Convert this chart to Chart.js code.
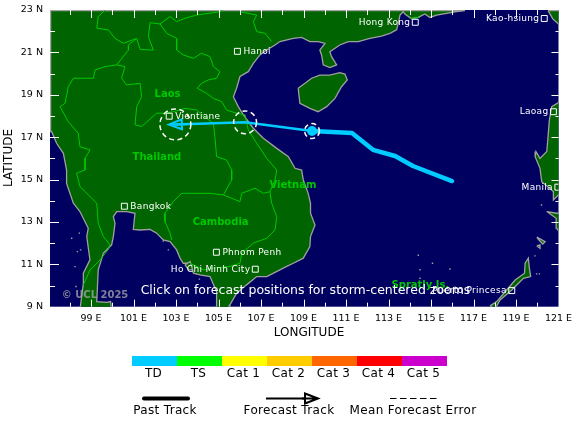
<!DOCTYPE html>
<html>
<head>
<meta charset="utf-8">
<title>Storm track</title>
<script src="https://cdn.jsdelivr.net/npm/chart.js@4/dist/chart.umd.js"></script>
<style>
body { margin: 0; background: #fff; }
canvas { display: block; }
</style>
</head>
<body>
<canvas id="trackChart" width="580" height="426"></canvas>
<script>
// axis labels
const lonTicks = [99, 101, 103, 105, 107, 109, 111, 113, 115, 117, 119, 121];
const latTicks = [9, 11, 13, 15, 17, 19, 21, 23];

// land outlines, [lon, lat]
const mainlandCoast = [[116.6,22.97],[116.2,22.92],[115.73,22.84],[115.26,22.76],[114.95,22.65],[114.71,22.81],[114.4,22.65],[114.09,22.59],[113.77,22.81],[113.69,22.92],[113.54,22.76],[113.46,22.37],[113.38,22.06],[113.07,21.9],[112.67,21.77],[112.12,21.66],[111.58,21.51],[111.11,21.51],[110.71,21.35],[110.24,21.03],[110.32,20.8],[110.56,20.41],[110.24,20.28],[109.93,20.41],[109.85,20.88],[109.77,21.11],[110.01,21.43],[109.69,21.51],[109.3,21.51],[108.91,21.71],[108.52,21.66],[107.89,21.51],[107.66,21.35],[107.27,21.11],[106.95,20.88],[106.64,20.48],[106.4,20.09],[106.01,19.86],[105.85,19.31],[105.7,18.91],[105.93,18.44],[106.17,18.05],[106.64,17.42],[107.11,16.95],[107.74,16.47],[108.29,16.08],[108.6,15.53],[108.91,15.45],[108.99,14.98],[109.22,14.35],[109.33,13.88],[109.33,13.41],[109.54,12.86],[109.33,12.31],[109.3,11.84],[108.99,11.29],[108.52,11.05],[108.21,10.9],[107.27,10.42],[106.8,10.42],[106.32,10.03],[105.85,9.63],[105.54,9.09],[105.5,8.8],[104.91,8.8],[104.91,9.71],[104.6,10.42],[104.13,10.5],[103.82,10.58],[103.66,11.05],[103.34,11.05],[103.19,11.29],[103.03,11.68],[102.72,12.07],[102.4,12.15],[102.09,12.47],[101.78,12.65],[101.31,12.62],[100.99,12.65],[101.07,13.41],[100.68,13.49],[100.21,13.49],[100.05,13.25],[100.13,12.94],[100.05,12.31],[99.97,11.92],[99.58,11.52],[99.34,10.74],[99.27,9.24],[99.74,9.2],[99.92,9.24],[99.97,8.85],[98.48,8.85],[98.64,10.1],[98.64,10.58],[98.95,11.21],[98.8,12.31],[98.87,12.7],[98.48,13.49],[98.17,13.88],[97.85,14.82],[97.85,15.45],[97.7,16.24],[97.38,16.71],[97.15,17.26],[97.1,17.26],[97.1,22.97]];
const hainanCoast = [[108.75,19.31],[108.83,18.6],[109.3,18.36],[109.69,18.2],[110.09,18.44],[110.48,18.83],[110.79,19.38],[111.06,19.7],[110.95,19.98],[110.71,20.04],[110.24,19.93],[109.77,19.93],[109.38,19.78],[109.07,19.54]];
const taiwanCoast = [[120.51,22.97],[120.74,22.57],[121.0,22.34],[121.1,21.94],[121.4,21.94],[121.4,22.97]];
const luzonCoast = [[121.07,18.68],[120.68,18.44],[120.57,17.81],[120.52,17.18],[120.45,16.32],[120.13,16.0],[119.94,16.32],[119.9,16.08],[120.13,15.53],[120.21,14.9],[120.76,14.43],[120.76,14.04],[121.07,14.35],[121.6,14.1],[121.6,18.68]];
const mindoroCoast = [[120.45,13.49],[120.92,13.41],[121.5,13.41],[121.5,12.4],[121.07,12.47],[120.92,12.7],[120.89,13.17]];
const busuangaCoast = [[119.98,12.28],[120.37,12.07],[120.26,11.96],[120.05,12.18]];
const culionCoast = [[119.98,11.87],[120.13,11.92],[120.13,11.76]];
const palawanCoast = [[117.78,9.04],[118.09,9.24],[118.56,9.79],[118.96,10.26],[119.4,10.58],[119.43,11.05],[119.58,11.29],[119.63,10.81],[119.69,10.42],[119.35,10.34],[118.8,9.79],[118.25,9.32],[118.02,8.9]];
const phuQuocCoast = [[103.42,10.97],[103.66,11.13],[103.78,10.74],[103.6,10.74]];

// specks too small to outline
const isletLons = [98.09,98.45,98.51,98.36,98.25,98.29,102.4,102.64,104.1,114.4,115.07,114.48,115.89,114.48,119.89,119.97,120.2,120.1];
const isletLats = [12.23,12.47,11.68,11.6,10.89,9.95,12.1,11.68,10.3,11.43,11.05,10.74,10.78,10.34,11.4,10.55,13.8,10.55];

// country borders
const chinaBorderWest = [[99.66,23],[99.34,22.69],[99.27,22.14],[99.82,22.06],[100.13,21.66],[100.52,21.43],[101.15,21.66],[101.31,21.14],[101.93,21.11],[101.7,21.74],[101.78,22.4],[102.25,22.34],[102.72,22.69],[103.03,22.45],[103.42,22.61],[103.97,22.76],[105.07,22.92],[105.2,23]];
const chinaBorderEast = [[106.01,22.92],[106.4,22.84],[106.8,22.76],[106.64,22.45],[106.8,21.98],[107.19,21.9],[107.5,21.51]];
const laosVietnamBorder = [[102.25,22.34],[102.56,21.9],[103.03,21.66],[103.03,21.11],[103.34,20.88],[103.82,20.72],[104.2,20.96],[104.6,20.8],[104.76,20.33],[105.07,20.09],[104.91,19.78],[104.52,19.7],[104.2,19.54],[104.0,19.31],[104.44,19.07],[104.76,18.83],[105.15,18.68],[105.38,18.28],[105.85,18.13],[106.25,18.05],[106.4,17.34],[106.8,16.71],[107.27,16.0],[107.74,15.45],[107.66,14.98],[107.42,14.43]];
const thaiLaosBorder = [[101.15,21.66],[100.76,21.35],[100.76,21.11],[100.21,20.41],[100.6,20.33],[100.44,19.78],[100.68,19.46],[101.31,19.54],[101.38,18.91],[101.15,18.44],[101.07,17.58],[101.38,17.5],[102.09,18.13],[102.4,18.13],[102.87,18.2],[103.42,18.36],[103.97,18.28],[104.44,17.89],[104.76,17.65],[104.83,17.03],[104.91,16.08],[105.38,15.92],[105.62,15.45],[105.62,14.98],[105.23,14.27],[104.6,14.35],[103.74,14.35],[103.27,14.35],[102.87,13.96],[102.48,13.41],[102.48,13.02],[102.72,12.47],[102.8,12.15]];
const thaiMyanmarBorder = [[100.21,20.41],[99.66,20.33],[99.19,20.17],[99.11,19.78],[98.17,19.78],[97.93,19.38],[97.78,18.6],[97.54,18.44],[97.93,17.73],[98.4,17.18],[98.48,16.55],[98.95,16.4],[98.72,16.0],[98.72,15.45],[98.32,15.3],[98.48,14.67],[99.27,13.88],[99.34,12.94],[99.58,12.31],[99.89,11.92],[99.82,11.71],[99.42,11.2],[98.95,10.73],[98.64,10.03]];
const cambodiaBorder = [[105.23,14.27],[106.01,13.96],[106.09,14.35],[106.72,14.59],[107.11,14.35],[107.42,14.43],[107.5,13.88],[107.74,13.25],[107.66,12.62],[107.27,12.23],[106.64,12.0],[106.09,11.52],[106.01,11.05],[105.54,10.9],[104.76,10.82],[104.29,10.74],[103.66,11.05]];
const hongKongBorder = [[114.0,22.6],[114.48,22.65]];

// storm track
const pastLons = [115.99, 114.15, 113.31, 112.27, 111.28, 109.4];
const pastLats = [14.93, 15.64, 16.11, 16.4, 17.2, 17.29];
const forecastLons = [109.4, 106.25, 102.97];
const forecastLats = [17.29, 17.7, 17.6];
const errorDegrees = [0.35, 0.54, 0.73];

// cities
const cityNames = ['Hanoi', 'Vientiane', 'Bangkok', 'Phnom Penh', 'Ho Chi Minh City', 'Hong Kong', 'Kao-hsiung', 'Laoag', 'Manila', 'Puerto Princesa'];
const cityLons = [105.89, 102.68, 100.57, 104.9, 106.73, 114.26, 120.33, 120.76, 120.97, 118.8];
const cityLats = [21.05, 17.99, 13.74, 11.57, 10.77, 22.42, 22.6, 18.2, 14.64, 9.76];
const labelsOnLeft = ['Ho Chi Minh City', 'Hong Kong', 'Kao-hsiung', 'Laoag', 'Manila', 'Puerto Princesa'];

// country names
const countryNames = ['Laos', 'Thailand', 'Vietnam', 'Cambodia', 'Spratly Is.'];
const countryLons = [102.6, 102.1, 108.5, 105.1, 114.5];
const countryLats = [19.0, 16.05, 14.7, 13.0, 9.99];

// legend
const catNames = ['TD', 'TS', 'Cat 1', 'Cat 2', 'Cat 3', 'Cat 4', 'Cat 5'];
const catColors = ['#00ccff', '#00ff00', '#ffff00', '#ffcc00', '#ff6600', '#ff0000', '#cc00cc'];

const LAND = '#006400';
const OCEAN = '#000060';
const COAST = '#a0a0a0';
const BORDER = '#00c800';
const FONT = '"DejaVu Sans"';

function toPoints(pairs) {
    return pairs.map(p => ({ x: p[0], y: p[1] }));
}
function zipPoints(lons, lats) {
    return lons.map((lon, i) => ({ x: lon, y: lats[i] }));
}

let datasets = [];
[mainlandCoast, hainanCoast, taiwanCoast, luzonCoast, mindoroCoast, busuangaCoast, culionCoast, palawanCoast, phuQuocCoast].forEach(coast => {
    datasets.push({
        data: toPoints(coast.concat([coast[0]])),
        showLine: true,
        fill: 'shape',
        backgroundColor: LAND,
        borderColor: COAST,
        borderWidth: 1.3,
        pointRadius: 0
    });
});
[chinaBorderWest, chinaBorderEast, laosVietnamBorder, thaiLaosBorder, thaiMyanmarBorder, cambodiaBorder, hongKongBorder].forEach(border => {
    datasets.push({
        data: toPoints(border),
        showLine: true,
        borderColor: BORDER,
        borderWidth: 1,
        pointRadius: 0
    });
});
datasets.push({
    data: zipPoints(isletLons, isletLats),
    pointStyle: 'rect',
    pointRadius: 1,
    borderWidth: 0,
    backgroundColor: COAST
});
datasets.push({
    data: zipPoints(cityLons, cityLats),
    pointStyle: 'rect',
    pointRadius: 4.2,
    borderWidth: 1,
    borderColor: '#ffffff',
    backgroundColor: 'rgba(0,0,0,0)'
});
datasets.push({
    data: zipPoints(pastLons, pastLats),
    showLine: true,
    borderColor: catColors[0],
    borderWidth: 4.5,
    borderCapStyle: 'round',
    borderJoinStyle: 'round',
    pointRadius: 0
});
datasets.push({
    data: zipPoints(forecastLons, forecastLats),
    showLine: true,
    borderColor: catColors[0],
    borderWidth: 2.5,
    pointRadius: 0
});
datasets.push({
    data: zipPoints(forecastLons.slice(0, 1), forecastLats.slice(0, 1)),
    pointRadius: 5,
    borderWidth: 0,
    backgroundColor: catColors[0]
});
// later datasets go on top
datasets.forEach((d, i) => { d.order = 100 - i; });

function drawArrow(ctx, tipX, tipY, angle, color, width) {
    ctx.save();
    ctx.translate(tipX, tipY);
    ctx.rotate(angle);
    ctx.strokeStyle = color;
    ctx.lineWidth = width;
    ctx.lineJoin = 'miter';
    ctx.beginPath();
    ctx.moveTo(0, 0);
    ctx.lineTo(-13, -5);
    ctx.lineTo(-13, 5);
    ctx.closePath();
    ctx.moveTo(0, 0);
    ctx.lineTo(-16, 0);
    ctx.stroke();
    ctx.restore();
}

function label(ctx, text, x, y, font, color, align, spacing) {
    ctx.font = font;
    ctx.fillStyle = color;
    ctx.textAlign = align || 'center';
    ctx.textBaseline = 'middle';
    ctx.letterSpacing = spacing || '0px';
    ctx.fillText(text, x, y);
    ctx.letterSpacing = '0px';
}

const mapBackground = {
    id: 'mapBackground',
    beforeDraw(chart) {
        const a = chart.chartArea;
        chart.ctx.fillStyle = OCEAN;
        chart.ctx.fillRect(a.left, a.top, a.right - a.left, a.bottom - a.top);
    }
};

const mapOverlay = {
    id: 'mapOverlay',
    afterDatasetsDraw(chart) {
        const ctx = chart.ctx;
        const a = chart.chartArea;
        const xs = chart.scales.x;
        const ys = chart.scales.y;

        // inward ticks on all four sides
        ctx.strokeStyle = '#ffffff';
        ctx.lineWidth = 1;
        ctx.beginPath();
        for (let lon = 98; lon <= 120; lon++) {
            const px = Math.round(xs.getPixelForValue(lon)) + 0.5;
            const len = lon % 2 ? 7 : 4;
            ctx.moveTo(px, a.top);
            ctx.lineTo(px, a.top + len + 1);
            ctx.moveTo(px, a.bottom);
            ctx.lineTo(px, a.bottom - len);
        }
        for (let lat = 10; lat <= 22; lat++) {
            const py = Math.round(ys.getPixelForValue(lat)) + 0.5;
            ctx.moveTo(a.left, py);
            ctx.lineTo(a.left + (lat % 2 ? 9 : 5), py);
            ctx.moveTo(a.right, py);
            ctx.lineTo(a.right - (lat % 2 ? 7 : 3), py);
        }
        ctx.stroke();

        // mean forecast error circles
        ctx.save();
        ctx.strokeStyle = '#ffffff';
        ctx.lineWidth = 1.5;
        ctx.setLineDash([5, 3.5]);
        forecastLons.forEach((lon, i) => {
            const radius = ys.getPixelForValue(forecastLats[i] - errorDegrees[i]) - ys.getPixelForValue(forecastLats[i]);
            ctx.beginPath();
            ctx.arc(xs.getPixelForValue(lon), ys.getPixelForValue(forecastLats[i]), radius, 0, Math.PI * 2);
            ctx.stroke();
        });
        ctx.restore();

        // arrow head centred on the last forecast position
        const last = forecastLons.length - 1;
        const endX = xs.getPixelForValue(forecastLons[last]);
        const endY = ys.getPixelForValue(forecastLats[last]);
        const prevX = xs.getPixelForValue(forecastLons[last - 1]);
        const prevY = ys.getPixelForValue(forecastLats[last - 1]);
        const angle = Math.atan2(endY - prevY, endX - prevX);
        drawArrow(ctx, endX + Math.cos(angle) * 6.5, endY + Math.sin(angle) * 6.5, angle, catColors[0], 2);

        ctx.save();
        ctx.beginPath();
        ctx.rect(a.left, a.top, a.right - a.left + 2, a.bottom - a.top);
        ctx.clip();

        countryNames.forEach((name, i) => {
            label(ctx, name, xs.getPixelForValue(countryLons[i]), ys.getPixelForValue(countryLats[i]), 'bold 10px ' + FONT, BORDER);
        });
        cityNames.forEach((name, i) => {
            const onLeft = labelsOnLeft.includes(name);
            const px = xs.getPixelForValue(cityLons[i]) + (onLeft ? -5 : 6);
            label(ctx, name, px, ys.getPixelForValue(cityLats[i]), '9px ' + FONT, '#ffffff', onLeft ? 'right' : 'left', '0.3px');
        });
        label(ctx, '© UCL 2025', 95, 295, 'bold 10px ' + FONT, 'rgba(170,170,170,0.75)');
        label(ctx, 'Click on forecast positions for storm-centered zooms', 305.5, 291, '12.5px ' + FONT, '#ffffff');
        ctx.restore();
    },
    afterDraw(chart) {
        const ctx = chart.ctx;

        label(ctx, 'LONGITUDE', 309, 333, '12px ' + FONT, '#000000');
        ctx.save();
        ctx.translate(8.5, 158);
        ctx.rotate(-Math.PI / 2);
        label(ctx, 'LATITUDE', 0, 0, '12px ' + FONT, '#000000');
        ctx.restore();

        // category colour bar
        catNames.forEach((name, i) => {
            ctx.fillStyle = catColors[i];
            ctx.fillRect(132 + i * 45, 356, 45, 10);
            label(ctx, name, 153.5 + i * 45, 374, '12px ' + FONT, '#000000', 'center', '0.3px');
        });

        // track key
        ctx.strokeStyle = '#000000';
        ctx.lineCap = 'round';
        ctx.lineWidth = 4;
        ctx.beginPath();
        ctx.moveTo(144, 398.5);
        ctx.lineTo(188, 398.5);
        ctx.stroke();
        ctx.lineCap = 'butt';
        ctx.lineWidth = 2;
        ctx.beginPath();
        ctx.moveTo(266, 398.5);
        ctx.lineTo(305, 398.5);
        ctx.stroke();
        drawArrow(ctx, 318, 398.5, 0, '#000000', 2);
        ctx.lineWidth = 1;
        ctx.setLineDash([6.5, 3.5]);
        ctx.beginPath();
        ctx.moveTo(390, 398.5);
        ctx.lineTo(437, 398.5);
        ctx.stroke();
        ctx.setLineDash([]);

        label(ctx, 'Past Track', 165, 411, '12px ' + FONT, '#000000', 'center', '0.35px');
        label(ctx, 'Forecast Track', 289, 411, '12px ' + FONT, '#000000', 'center', '0.35px');
        label(ctx, 'Mean Forecast Error', 413, 411, '12px ' + FONT, '#000000', 'center', '0.35px');
    }
};

new Chart(document.getElementById('trackChart'), {
    type: 'scatter',
    data: { datasets: datasets },
    options: {
        responsive: false,
        animation: false,
        layout: { padding: { left: 0, top: 10, right: 21.5, bottom: 89.3 } },
        plugins: { legend: { display: false }, tooltip: { enabled: false } },
        events: [],
        scales: {
            x: {
                type: 'linear',
                min: 97.07,
                max: 121,
                grid: { display: false, drawTicks: false },
                border: { display: false },
                afterFit(scale) { scale.height = 30; },
                afterBuildTicks(scale) { scale.ticks = lonTicks.map(v => ({ value: v })); },
                ticks: {
                    padding: 6,
                    autoSkip: false,
                    maxRotation: 0,
                    color: '#000000',
                    font: { family: FONT, size: 9.5 },
                    callback: v => v + ' E'
                }
            },
            y: {
                type: 'linear',
                min: 9,
                max: 23,
                grid: { display: false, drawTicks: false },
                border: { display: false },
                // tick padding must not push the map down
                afterFit(scale) { scale.width = 50; scale.paddingTop = 0; scale.paddingBottom = 0; },
                afterBuildTicks(scale) { scale.ticks = latTicks.map(v => ({ value: v })); },
                ticks: {
                    padding: 7,
                    autoSkip: false,
                    color: '#000000',
                    font: { family: FONT, size: 9.5 },
                    callback: v => v + ' N'
                }
            }
        }
    },
    plugins: [mapBackground, mapOverlay]
});
</script>
</body>
</html>
